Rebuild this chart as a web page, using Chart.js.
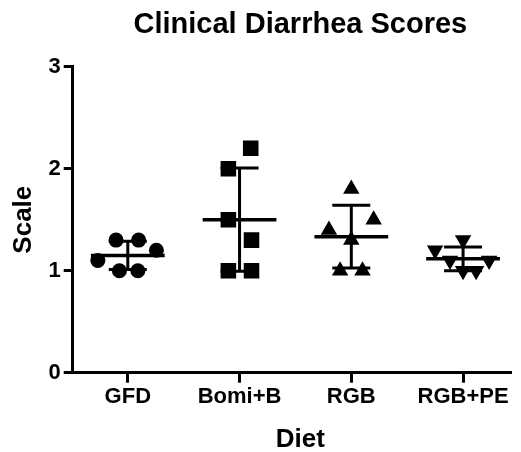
<!DOCTYPE html>
<html>
<head>
<meta charset="utf-8">
<script src="https://cdn.jsdelivr.net/npm/chart.js@4.4.0/dist/chart.umd.min.js"></script>
<style>
  body { margin: 0; background: #fff; }
</style>
</head>
<body>
<canvas id="chart" width="521" height="452"></canvas>
<script>
// data
const diets = ['GFD', 'Bomi+B', 'RGB', 'RGB+PE'];
const gfdScores = [1.3, 1.3, 1.2, 1.1, 1.0, 1.0];
const bomiScores = [2.2, 2.0, 1.5, 1.3, 1.0, 1.0];
const rgbScores = [1.8, 1.5, 1.4, 1.3, 1.0, 1.0];
const rgbPeScores = [1.3, 1.2, 1.1, 1.1, 1.0, 1.0];

// sideways spread of tied points (fraction of a category)
const gfdSpread = [-0.105, 0.097, 0.256, -0.268, -0.075, 0.09];
const bomiSpread = [0.1, -0.1, -0.1, 0.107, -0.1, 0.107];
const rgbSpread = [0, 0.2, -0.2, 0, -0.1, 0.1];
const rgbPeSpread = [0, -0.25, -0.117, 0.233, 0, 0.117];

const yTicks = [0, 1, 2, 3];

const chartTitle = 'Clinical Diarrhea Scores';
const xTitle = 'Diet';
const yTitle = 'Scale';

Chart.defaults.font.family = "'Liberation Sans', Arial, sans-serif";
Chart.defaults.color = '#000';

function mean(arr) {
    return arr.reduce((s, v) => s + v, 0) / arr.length;
}

function stdDev(arr) {
    const m = mean(arr);
    const ss = arr.reduce((s, v) => s + (v - m) * (v - m), 0);
    return Math.sqrt(ss / (arr.length - 1));
}

function toPoints(scores, spread, pos) {
    return scores.map((v, i) => ({ x: pos + spread[i], y: v }));
}

const groups = [gfdScores, bomiScores, rgbScores, rgbPeScores];

// mean line with SD whiskers, drawn through the chart scales
const meanSdPlugin = {
    id: 'meanSd',
    afterDatasetsDraw(chart) {
        const { ctx, scales: { x, y } } = chart;
        ctx.save();
        ctx.strokeStyle = '#000';
        ctx.lineCap = 'butt';
        groups.forEach((scores, i) => {
            const pos = i + 1;
            const m = mean(scores);
            const sd = stdDev(scores);
            const xc = x.getPixelForValue(pos);
            const ym = y.getPixelForValue(m);
            const yHi = y.getPixelForValue(m + sd);
            const yLo = y.getPixelForValue(m - sd);

            ctx.lineWidth = 3.5;
            ctx.beginPath();
            ctx.moveTo(x.getPixelForValue(pos - 0.33), ym);
            ctx.lineTo(x.getPixelForValue(pos + 0.33), ym);
            ctx.stroke();

            ctx.lineWidth = 3;
            ctx.beginPath();
            ctx.moveTo(xc, yHi);
            ctx.lineTo(xc, yLo);
            ctx.moveTo(x.getPixelForValue(pos - 0.17), yHi);
            ctx.lineTo(x.getPixelForValue(pos + 0.17), yHi);
            ctx.moveTo(x.getPixelForValue(pos - 0.17), yLo);
            ctx.lineTo(x.getPixelForValue(pos + 0.17), yLo);
            ctx.stroke();
        });
        ctx.restore();
    }
};

// chart title and x title sit a little right of the plot centre in the original
const titlesPlugin = {
    id: 'titles',
    afterDraw(chart) {
        const { ctx, chartArea } = chart;
        const cx = (chartArea.left + chartArea.right) / 2 + 9;
        ctx.save();
        ctx.fillStyle = '#000';
        ctx.textAlign = 'center';
        ctx.textBaseline = 'middle';
        ctx.font = "bold 29px 'Liberation Sans', Arial, sans-serif";
        ctx.fillText(chartTitle, cx, 25);
        ctx.font = "bold 26px 'Liberation Sans', Arial, sans-serif";
        ctx.fillText(xTitle, cx, 440);
        ctx.restore();
    }
};

const ctx = document.getElementById('chart').getContext('2d');

new Chart(ctx, {
    type: 'scatter',
    data: {
        datasets: [
            {
                label: 'GFD',
                data: toPoints(gfdScores, gfdSpread, 1),
                pointStyle: 'circle',
                pointRadius: 7.5,
                backgroundColor: '#000',
                borderWidth: 0
            },
            {
                label: 'Bomi+B',
                data: toPoints(bomiScores, bomiSpread, 2),
                pointStyle: 'rect',
                pointRadius: 11,
                backgroundColor: '#000',
                borderWidth: 0
            },
            {
                label: 'RGB',
                data: toPoints(rgbScores, rgbSpread, 3),
                pointStyle: 'triangle',
                pointRadius: 9.5,
                backgroundColor: '#000',
                borderWidth: 0
            },
            {
                label: 'RGB+PE',
                data: toPoints(rgbPeScores, rgbPeSpread, 4),
                pointStyle: 'triangle',
                rotation: 180,
                pointRadius: 9.5,
                backgroundColor: '#000',
                borderWidth: 0
            }
        ]
    },
    options: {
        responsive: false,
        animation: false,
        layout: { padding: { left: 0, right: 1, top: 66.7, bottom: 0 } },
        plugins: {
            legend: { display: false },
            tooltip: { enabled: false },
            title: { display: false }
        },
        scales: {
            x: {
                type: 'linear',
                min: 0.507,
                max: 4.42,
                afterBuildTicks: axis => {
                    axis.ticks = diets.map((d, i) => ({ value: i + 1 }));
                },
                afterFit: axis => { axis.height = 79.3; },
                ticks: {
                    callback: value => diets[value - 1],
                    font: { size: 22, weight: 'bold' },
                    color: '#000',
                    padding: 1,
                    maxRotation: 0
                },
                grid: {
                    drawOnChartArea: false,
                    color: '#000',
                    lineWidth: 3,
                    tickLength: 10
                },
                border: { color: '#000', width: 3 },
                title: { display: false }
            },
            y: {
                min: 0,
                max: 3,
                afterBuildTicks: axis => {
                    axis.ticks = yTicks.map(v => ({ value: v }));
                },
                afterFit: axis => { axis.width = 72.7; },
                ticks: {
                    font: { size: 22, weight: 'bold' },
                    color: '#000',
                    padding: 3
                },
                grid: {
                    drawOnChartArea: false,
                    color: '#000',
                    lineWidth: 3,
                    tickLength: 9
                },
                border: { color: '#000', width: 3 },
                title: {
                    display: true,
                    text: yTitle,
                    color: '#000',
                    font: { size: 26, weight: 'bold', lineHeight: 1 },
                    padding: { top: 11, bottom: 0 }
                }
            }
        }
    },
    plugins: [meanSdPlugin, titlesPlugin]
});
</script>
</body>
</html>
